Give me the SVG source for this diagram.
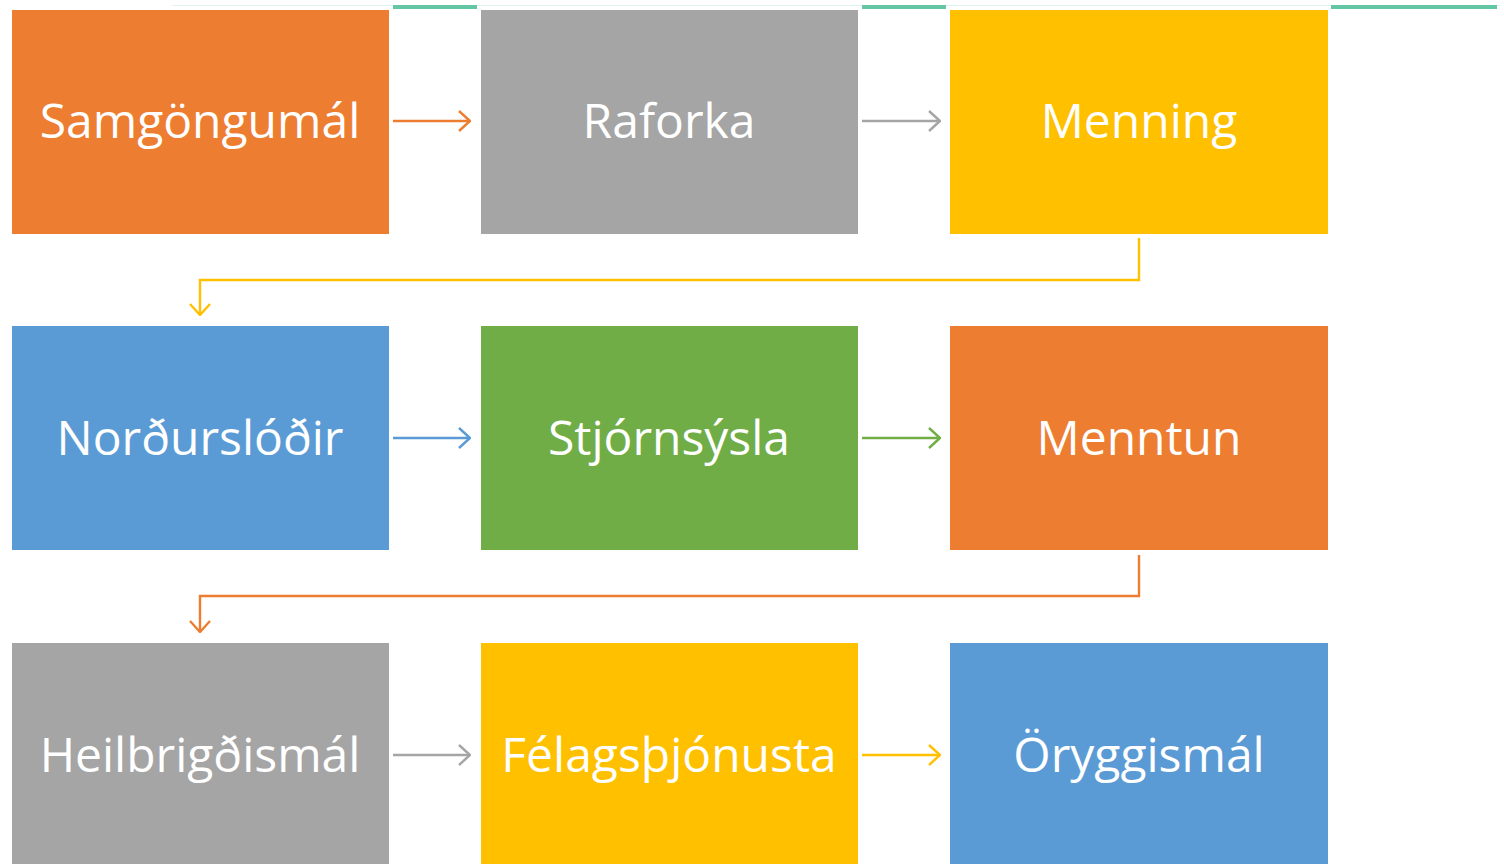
<svg xmlns="http://www.w3.org/2000/svg" width="1504" height="864" viewBox="0 0 1504 864">
<style>
.t{font-family:"Open Sans","Noto Sans","Liberation Sans",sans-serif;font-size:48px;fill:#fff;text-anchor:middle;dominant-baseline:central}
.c{fill:none;stroke-width:2.4}
</style>
<defs>
<marker id="aO" viewBox="0 0 13 22" refX="12" refY="11" markerWidth="13" markerHeight="22" markerUnits="userSpaceOnUse" orient="auto"><path d="M1,1 L12,11 L1,21" fill="none" stroke="#ED7D31" stroke-width="2.4"/></marker>
<marker id="aG" viewBox="0 0 13 22" refX="12" refY="11" markerWidth="13" markerHeight="22" markerUnits="userSpaceOnUse" orient="auto"><path d="M1,1 L12,11 L1,21" fill="none" stroke="#A5A5A5" stroke-width="2.4"/></marker>
<marker id="aY" viewBox="0 0 13 22" refX="12" refY="11" markerWidth="13" markerHeight="22" markerUnits="userSpaceOnUse" orient="auto"><path d="M1,1 L12,11 L1,21" fill="none" stroke="#FFC000" stroke-width="2.4"/></marker>
<marker id="aB" viewBox="0 0 13 22" refX="12" refY="11" markerWidth="13" markerHeight="22" markerUnits="userSpaceOnUse" orient="auto"><path d="M1,1 L12,11 L1,21" fill="none" stroke="#5B9BD5" stroke-width="2.4"/></marker>
<marker id="aN" viewBox="0 0 13 22" refX="12" refY="11" markerWidth="13" markerHeight="22" markerUnits="userSpaceOnUse" orient="auto"><path d="M1,1 L12,11 L1,21" fill="none" stroke="#70AD47" stroke-width="2.4"/></marker>
</defs>
<rect width="1504" height="864" fill="#fff"/>
<g id="topline">
<line x1="172" y1="5.5" x2="1500" y2="5.5" stroke="#E2F3ED" stroke-width="1"/>
<rect x="393" y="5" width="84" height="4" fill="#63C7A3"/>
<rect x="862" y="5" width="84" height="4" fill="#63C7A3"/>
<rect x="1331" y="5" width="166" height="4" fill="#63C7A3"/>
</g>
<g id="connectors">
<line class="c" x1="393" y1="121" x2="470" y2="121" stroke="#ED7D31" marker-end="url(#aO)"/>
<line class="c" x1="862" y1="121" x2="940" y2="121" stroke="#A5A5A5" marker-end="url(#aG)"/>
<polyline class="c" points="1139,238 1139,280 200,280 200,315" stroke="#FFC000" marker-end="url(#aY)"/>
<line class="c" x1="393" y1="438" x2="470" y2="438" stroke="#5B9BD5" marker-end="url(#aB)"/>
<line class="c" x1="862" y1="438" x2="940" y2="438" stroke="#70AD47" marker-end="url(#aN)"/>
<polyline class="c" points="1139,555 1139,596 200,596 200,632" stroke="#ED7D31" marker-end="url(#aO)"/>
<line class="c" x1="393" y1="755" x2="470" y2="755" stroke="#A5A5A5" marker-end="url(#aG)"/>
<line class="c" x1="862" y1="755" x2="940" y2="755" stroke="#FFC000" marker-end="url(#aY)"/>
</g>
<g id="n1"><rect x="12" y="10" width="377" height="224" fill="#ED7D31"/><text class="t" x="200" y="119">Samgöngumál</text></g>
<g id="n2"><rect x="481" y="10" width="377" height="224" fill="#A5A5A5"/><text class="t" x="669" y="119">Raforka</text></g>
<g id="n3"><rect x="950" y="10" width="378" height="224" fill="#FFC000"/><text class="t" x="1139" y="119">Menning</text></g>
<g id="n4"><rect x="12" y="326" width="377" height="224" fill="#5B9BD5"/><text class="t" x="200" y="436">Norðurslóðir</text></g>
<g id="n5"><rect x="481" y="326" width="377" height="224" fill="#70AD47"/><text class="t" x="669" y="436">Stjórnsýsla</text></g>
<g id="n6"><rect x="950" y="326" width="378" height="224" fill="#ED7D31"/><text class="t" x="1139" y="436">Menntun</text></g>
<g id="n7"><rect x="12" y="643" width="377" height="224" fill="#A5A5A5"/><text class="t" x="200" y="753">Heilbrigðismál</text></g>
<g id="n8"><rect x="481" y="643" width="377" height="224" fill="#FFC000"/><text class="t" x="669" y="753">Félagsþjónusta</text></g>
<g id="n9"><rect x="950" y="643" width="378" height="224" fill="#5B9BD5"/><text class="t" x="1139" y="753">Öryggismál</text></g>
</svg>
